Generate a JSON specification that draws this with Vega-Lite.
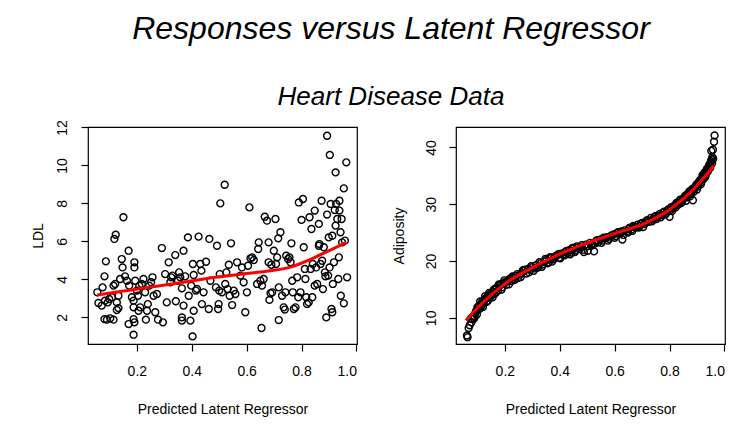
{
  "$schema": "https://vega.github.io/schema/vega-lite/v6.json",
  "background": "white",
  "padding": {"left": 30, "top": 12, "right": 5, "bottom": 5},
  "title": {
    "text": "Responses versus Latent Regressor",
    "subtitle": "Heart Disease Data",
    "anchor": "middle",
    "dx": 13,
    "font": "Liberation Sans",
    "fontSize": 32,
    "fontStyle": "italic",
    "fontWeight": "normal",
    "color": "black",
    "subtitleFont": "Liberation Sans",
    "subtitleFontSize": 26,
    "subtitleFontStyle": "italic",
    "subtitleColor": "black",
    "subtitlePadding": 38,
    "offset": 8
  },
  "datasets": {
    "ldl": [
      {"x":0.056,"y":3.32},{"x":0.060,"y":2.76},{"x":0.072,"y":2.62},{"x":0.075,"y":3.58},{"x":0.082,"y":4.16},
      {"x":0.087,"y":4.95},{"x":0.082,"y":1.91},{"x":0.091,"y":1.88},{"x":0.103,"y":1.95},{"x":0.115,"y":1.88},
      {"x":0.084,"y":2.88},{"x":0.094,"y":2.79},{"x":0.099,"y":2.97},{"x":0.109,"y":3.06},{"x":0.115,"y":3.67},
      {"x":0.121,"y":3.76},{"x":0.118,"y":6.13},{"x":0.123,"y":6.35},{"x":0.127,"y":2.39},{"x":0.133,"y":2.49},
      {"x":0.127,"y":2.79},{"x":0.133,"y":3.14},{"x":0.139,"y":4.02},{"x":0.145,"y":5.07},{"x":0.148,"y":4.63},
      {"x":0.151,"y":7.27},{"x":0.157,"y":4.16},{"x":0.164,"y":3.93},{"x":0.170,"y":5.51},{"x":0.172,"y":3.67},
      {"x":0.170,"y":1.65},{"x":0.182,"y":3.06},{"x":0.188,"y":2.88},{"x":0.191,"y":4.90},{"x":0.191,"y":4.63},
      {"x":0.188,"y":2.53},{"x":0.188,"y":1.91},{"x":0.191,"y":1.74},{"x":0.188,"y":1.09},{"x":0.194,"y":3.93},
      {"x":0.200,"y":3.41},{"x":0.204,"y":3.14},{"x":0.209,"y":3.67},{"x":0.206,"y":2.35},{"x":0.212,"y":2.53},
      {"x":0.218,"y":3.76},{"x":0.224,"y":4.02},{"x":0.230,"y":3.32},{"x":0.233,"y":1.88},{"x":0.237,"y":2.35},
      {"x":0.240,"y":2.70},{"x":0.245,"y":3.67},{"x":0.252,"y":3.85},{"x":0.257,"y":4.11},{"x":0.261,"y":3.14},
      {"x":0.267,"y":2.27},{"x":0.273,"y":3.23},{"x":0.277,"y":1.88},{"x":0.291,"y":5.65},{"x":0.295,"y":1.74},
      {"x":0.303,"y":4.28},{"x":0.309,"y":2.79},{"x":0.316,"y":4.90},{"x":0.322,"y":3.85},{"x":0.325,"y":4.11},
      {"x":0.330,"y":4.20},{"x":0.340,"y":5.28},{"x":0.342,"y":2.85},{"x":0.350,"y":3.93},{"x":0.354,"y":4.37},
      {"x":0.358,"y":4.11},{"x":0.364,"y":3.53},{"x":0.364,"y":2.00},{"x":0.364,"y":1.83},{"x":0.370,"y":5.51},
      {"x":0.370,"y":2.62},{"x":0.376,"y":4.16},{"x":0.386,"y":6.21},{"x":0.389,"y":3.14},{"x":0.395,"y":1.83},
      {"x":0.398,"y":3.67},{"x":0.403,"y":1.00},{"x":0.404,"y":4.81},{"x":0.407,"y":2.35},{"x":0.407,"y":4.23},
      {"x":0.415,"y":3.41},{"x":0.419,"y":3.50},{"x":0.425,"y":6.25},{"x":0.431,"y":4.81},{"x":0.435,"y":4.46},
      {"x":0.437,"y":2.70},{"x":0.443,"y":3.32},{"x":0.452,"y":4.93},{"x":0.462,"y":2.44},{"x":0.464,"y":6.13},
      {"x":0.468,"y":3.93},{"x":0.488,"y":3.58},{"x":0.492,"y":5.77},{"x":0.496,"y":2.44},{"x":0.498,"y":2.70},
      {"x":0.500,"y":3.41},{"x":0.502,"y":4.28},{"x":0.504,"y":8.00},{"x":0.510,"y":3.32},{"x":0.520,"y":8.98},
      {"x":0.522,"y":3.76},{"x":0.526,"y":4.37},{"x":0.531,"y":3.49},{"x":0.535,"y":4.77},{"x":0.538,"y":3.14},
      {"x":0.543,"y":5.90},{"x":0.547,"y":2.65},{"x":0.553,"y":3.41},{"x":0.559,"y":3.23},{"x":0.565,"y":4.90},
      {"x":0.577,"y":4.20},{"x":0.583,"y":4.63},{"x":0.589,"y":3.85},{"x":0.595,"y":2.27},{"x":0.601,"y":3.32},
      {"x":0.605,"y":4.72},{"x":0.610,"y":7.79},{"x":0.614,"y":5.11},{"x":0.620,"y":5.16},{"x":0.626,"y":5.02},
      {"x":0.638,"y":3.76},{"x":0.642,"y":5.60},{"x":0.644,"y":5.95},{"x":0.650,"y":3.93},{"x":0.654,"y":1.44},
      {"x":0.656,"y":3.67},{"x":0.662,"y":4.02},{"x":0.666,"y":7.30},{"x":0.674,"y":7.09},{"x":0.680,"y":5.95},
      {"x":0.680,"y":4.90},{"x":0.683,"y":2.92},{"x":0.687,"y":3.27},{"x":0.690,"y":4.77},{"x":0.693,"y":3.32},
      {"x":0.699,"y":5.51},{"x":0.705,"y":7.18},{"x":0.707,"y":4.81},{"x":0.711,"y":5.16},{"x":0.715,"y":6.16},
      {"x":0.717,"y":1.86},{"x":0.717,"y":3.58},{"x":0.723,"y":6.48},{"x":0.729,"y":3.14},{"x":0.735,"y":2.53},
      {"x":0.739,"y":2.41},{"x":0.741,"y":3.32},{"x":0.744,"y":5.25},{"x":0.751,"y":5.07},{"x":0.756,"y":5.16},
      {"x":0.760,"y":4.90},{"x":0.763,"y":5.90},{"x":0.766,"y":3.93},{"x":0.768,"y":3.32},{"x":0.772,"y":2.44},
      {"x":0.778,"y":2.53},{"x":0.784,"y":4.11},{"x":0.788,"y":3.06},{"x":0.790,"y":8.05},{"x":0.796,"y":3.32},
      {"x":0.800,"y":7.13},{"x":0.805,"y":8.23},{"x":0.808,"y":5.69},{"x":0.812,"y":4.55},{"x":0.814,"y":4.02},
      {"x":0.817,"y":3.06},{"x":0.820,"y":2.70},{"x":0.826,"y":2.79},{"x":0.829,"y":7.27},{"x":0.833,"y":4.55},
      {"x":0.836,"y":6.65},{"x":0.839,"y":3.06},{"x":0.841,"y":4.81},{"x":0.848,"y":7.62},{"x":0.848,"y":3.67},
      {"x":0.853,"y":4.63},{"x":0.857,"y":3.76},{"x":0.863,"y":6.92},{"x":0.863,"y":5.77},{"x":0.865,"y":5.86},
      {"x":0.869,"y":4.81},{"x":0.873,"y":8.14},{"x":0.875,"y":4.98},{"x":0.878,"y":3.49},{"x":0.881,"y":5.69},
      {"x":0.885,"y":4.37},{"x":0.887,"y":4.16},{"x":0.890,"y":2.00},{"x":0.893,"y":11.56},{"x":0.893,"y":7.41},
      {"x":0.897,"y":4.20},{"x":0.899,"y":6.21},{"x":0.902,"y":4.63},{"x":0.903,"y":10.55},{"x":0.906,"y":7.97},
      {"x":0.909,"y":2.44},{"x":0.912,"y":2.27},{"x":0.912,"y":6.30},{"x":0.914,"y":3.76},{"x":0.918,"y":4.90},
      {"x":0.921,"y":7.65},{"x":0.924,"y":9.63},{"x":0.924,"y":6.83},{"x":0.926,"y":7.97},{"x":0.930,"y":7.18},
      {"x":0.934,"y":4.02},{"x":0.936,"y":5.16},{"x":0.938,"y":7.62},{"x":0.938,"y":8.14},{"x":0.942,"y":6.48},
      {"x":0.943,"y":3.14},{"x":0.946,"y":7.18},{"x":0.948,"y":5.95},{"x":0.954,"y":8.79},{"x":0.954,"y":2.74},
      {"x":0.958,"y":6.04},{"x":0.963,"y":10.16},{"x":0.966,"y":4.11}
    ],
    "ldlfit": [
      {"x":0.056,"y":3.18},{"x":0.121,"y":3.32},{"x":0.243,"y":3.58},{"x":0.364,"y":3.84},{"x":0.486,"y":4.11},
      {"x":0.608,"y":4.32},{"x":0.705,"y":4.49},{"x":0.766,"y":4.67},{"x":0.827,"y":5.02},{"x":0.887,"y":5.42},
      {"x":0.963,"y":5.95}
    ],
    "adip": [
      {"x":0.062,"y":6.9},{"x":0.064,"y":6.6},{"x":0.072,"y":8.7},{"x":0.078,"y":9.2},{"x":0.082,"y":9.8},
      {"x":0.085,"y":10.3},{"x":0.088,"y":9.9},{"x":0.092,"y":10.8},{"x":0.095,"y":11.2},{"x":0.098,"y":10.6},
      {"x":0.102,"y":11.5},{"x":0.105,"y":12.0},{"x":0.108,"y":11.6},{"x":0.112,"y":12.4},{"x":0.115,"y":12.1},
      {"x":0.118,"y":12.9},{"x":0.122,"y":12.6},{"x":0.125,"y":13.1},{"x":0.130,"y":13.4},{"x":0.133,"y":12.8},
      {"x":0.136,"y":13.7},{"x":0.140,"y":13.9},{"x":0.145,"y":13.5},{"x":0.148,"y":14.2},{"x":0.152,"y":14.0},
      {"x":0.158,"y":14.6},{"x":0.162,"y":14.2},{"x":0.165,"y":15.1},{"x":0.170,"y":15.3},{"x":0.175,"y":14.8},
      {"x":0.180,"y":15.6},{"x":0.185,"y":15.9},{"x":0.190,"y":15.4},{"x":0.195,"y":16.1},{"x":0.200,"y":16.3},
      {"x":0.205,"y":15.8},{"x":0.212,"y":16.6},{"x":0.218,"y":16.9},{"x":0.225,"y":16.5},{"x":0.232,"y":17.1},
      {"x":0.240,"y":17.4},{"x":0.248,"y":17.0},{"x":0.255,"y":17.6},{"x":0.262,"y":17.9},{"x":0.270,"y":18.3},
      {"x":0.278,"y":17.8},{"x":0.285,"y":18.6},{"x":0.292,"y":18.4},{"x":0.300,"y":18.9},{"x":0.308,"y":18.7},
      {"x":0.315,"y":19.3},{"x":0.322,"y":19.0},{"x":0.330,"y":19.6},{"x":0.338,"y":19.4},{"x":0.345,"y":19.9},
      {"x":0.352,"y":20.2},{"x":0.360,"y":19.8},{"x":0.368,"y":20.5},{"x":0.375,"y":20.3},{"x":0.383,"y":20.8},
      {"x":0.390,"y":21.0},{"x":0.398,"y":20.6},{"x":0.405,"y":21.3},{"x":0.412,"y":21.1},{"x":0.420,"y":21.6},
      {"x":0.428,"y":21.4},{"x":0.435,"y":21.9},{"x":0.442,"y":21.5},{"x":0.450,"y":22.2},{"x":0.458,"y":21.9},
      {"x":0.465,"y":22.4},{"x":0.472,"y":22.1},{"x":0.480,"y":22.8},{"x":0.488,"y":21.6},{"x":0.495,"y":22.9},
      {"x":0.502,"y":21.8},{"x":0.510,"y":23.2},{"x":0.518,"y":23.0},{"x":0.525,"y":21.7},{"x":0.532,"y":23.5},
      {"x":0.540,"y":23.3},{"x":0.548,"y":23.8},{"x":0.556,"y":23.6},{"x":0.564,"y":24.0},{"x":0.572,"y":24.2},
      {"x":0.580,"y":23.9},{"x":0.588,"y":24.5},{"x":0.596,"y":24.7},{"x":0.604,"y":24.4},{"x":0.612,"y":25.1},
      {"x":0.620,"y":24.9},{"x":0.628,"y":23.8},{"x":0.636,"y":25.4},{"x":0.644,"y":25.2},{"x":0.652,"y":25.7},
      {"x":0.660,"y":25.5},{"x":0.668,"y":26.2},{"x":0.676,"y":25.9},{"x":0.684,"y":26.4},{"x":0.692,"y":26.2},
      {"x":0.700,"y":26.7},{"x":0.708,"y":26.5},{"x":0.716,"y":27.1},{"x":0.724,"y":26.9},{"x":0.732,"y":27.6},
      {"x":0.740,"y":27.3},{"x":0.748,"y":27.9},{"x":0.756,"y":27.7},{"x":0.764,"y":28.3},{"x":0.772,"y":28.1},
      {"x":0.780,"y":28.7},{"x":0.788,"y":28.4},{"x":0.795,"y":29.1},{"x":0.800,"y":27.8},{"x":0.806,"y":29.5},
      {"x":0.812,"y":29.3},{"x":0.818,"y":29.8},{"x":0.824,"y":30.1},{"x":0.830,"y":29.9},{"x":0.836,"y":30.5},
      {"x":0.842,"y":30.2},{"x":0.848,"y":30.9},{"x":0.854,"y":31.2},{"x":0.860,"y":30.6},{"x":0.865,"y":31.6},
      {"x":0.870,"y":31.9},{"x":0.875,"y":31.4},{"x":0.880,"y":32.4},{"x":0.885,"y":30.7},{"x":0.890,"y":32.8},
      {"x":0.895,"y":33.2},{"x":0.900,"y":32.6},{"x":0.905,"y":33.7},{"x":0.910,"y":34.1},{"x":0.914,"y":33.5},
      {"x":0.918,"y":34.6},{"x":0.922,"y":34.9},{"x":0.926,"y":35.3},{"x":0.930,"y":34.8},{"x":0.934,"y":35.7},
      {"x":0.938,"y":36.1},{"x":0.942,"y":36.5},{"x":0.946,"y":37.0},{"x":0.950,"y":37.4},{"x":0.953,"y":37.9},
      {"x":0.956,"y":38.3},{"x":0.952,"y":39.4},{"x":0.958,"y":39.6},{"x":0.962,"y":41.0},{"x":0.964,"y":42.1},
      {"x":0.068,"y":8.2},{"x":0.076,"y":9.9},{"x":0.090,"y":10.2},{"x":0.100,"y":11.9},{"x":0.110,"y":12.9},
      {"x":0.120,"y":11.9},{"x":0.128,"y":13.8},{"x":0.138,"y":13.0},{"x":0.143,"y":14.4},{"x":0.155,"y":13.6},
      {"x":0.160,"y":15.0},{"x":0.168,"y":14.5},{"x":0.178,"y":15.9},{"x":0.188,"y":15.0},{"x":0.198,"y":16.6},
      {"x":0.208,"y":16.4},{"x":0.215,"y":15.9},{"x":0.228,"y":17.3},{"x":0.236,"y":16.7},{"x":0.245,"y":17.7},
      {"x":0.258,"y":17.2},{"x":0.266,"y":18.4},{"x":0.275,"y":18.5},{"x":0.288,"y":18.0},{"x":0.296,"y":19.1},
      {"x":0.305,"y":18.3},{"x":0.318,"y":18.8},{"x":0.326,"y":19.8},{"x":0.335,"y":19.0},{"x":0.348,"y":20.4},
      {"x":0.356,"y":19.6},{"x":0.365,"y":20.7},{"x":0.372,"y":19.9},{"x":0.380,"y":20.4},{"x":0.395,"y":21.2},
      {"x":0.402,"y":20.5},{"x":0.418,"y":21.0},{"x":0.425,"y":21.8},{"x":0.438,"y":21.2},{"x":0.446,"y":22.3},
      {"x":0.455,"y":21.6},{"x":0.462,"y":22.6},{"x":0.476,"y":22.4},{"x":0.485,"y":22.0},{"x":0.500,"y":22.6},
      {"x":0.515,"y":22.7},{"x":0.528,"y":23.1},{"x":0.536,"y":23.7},{"x":0.552,"y":23.2},{"x":0.560,"y":24.1},
      {"x":0.576,"y":23.6},{"x":0.584,"y":24.3},{"x":0.600,"y":24.1},{"x":0.608,"y":24.9},{"x":0.624,"y":25.2},
      {"x":0.632,"y":24.6},{"x":0.648,"y":25.0},{"x":0.656,"y":25.9},{"x":0.664,"y":25.3},{"x":0.672,"y":26.1},
      {"x":0.688,"y":25.9},{"x":0.696,"y":26.6},{"x":0.704,"y":26.0},{"x":0.712,"y":26.8},{"x":0.720,"y":27.2},
      {"x":0.736,"y":27.0},{"x":0.744,"y":27.7},{"x":0.752,"y":27.4},{"x":0.760,"y":28.0},{"x":0.768,"y":27.7},
      {"x":0.776,"y":28.5},{"x":0.784,"y":28.2},{"x":0.792,"y":28.8},{"x":0.803,"y":29.0},{"x":0.809,"y":28.8},
      {"x":0.815,"y":29.6},{"x":0.821,"y":29.4},{"x":0.827,"y":30.3},{"x":0.833,"y":30.0},{"x":0.839,"y":30.8},
      {"x":0.845,"y":30.4},{"x":0.851,"y":31.0},{"x":0.857,"y":31.5},{"x":0.863,"y":31.2},{"x":0.868,"y":32.0},
      {"x":0.873,"y":32.3},{"x":0.878,"y":31.8},{"x":0.883,"y":32.7},{"x":0.888,"y":32.2},{"x":0.893,"y":33.0},
      {"x":0.898,"y":33.5},{"x":0.903,"y":33.1},{"x":0.908,"y":34.0},{"x":0.912,"y":34.3},{"x":0.916,"y":33.9},
      {"x":0.920,"y":35.1},{"x":0.924,"y":34.5},{"x":0.928,"y":35.6},{"x":0.932,"y":35.2},{"x":0.936,"y":36.2},
      {"x":0.940,"y":35.8},{"x":0.944,"y":36.8},{"x":0.948,"y":36.4},{"x":0.951,"y":37.6},{"x":0.955,"y":37.2},
      {"x":0.959,"y":38.0}
    ],
    "adipfit": [
      {"x":0.058,"y":9.53},{"x":0.109,"y":12.17},{"x":0.200,"y":15.98},{"x":0.291,"y":18.61},{"x":0.401,"y":21.25},
      {"x":0.474,"y":22.71},{"x":0.602,"y":24.88},{"x":0.718,"y":26.81},{"x":0.803,"y":29.16},{"x":0.888,"y":32.67},
      {"x":0.961,"y":36.77}
    ]
  },
  "spacing": 33,
  "hconcat": [
    {
      "width": 269,
      "height": 217,
      "layer": [
        {
          "data": {"name": "ldl"},
          "mark": {"type": "point", "shape": "circle", "filled": false, "stroke": "black", "strokeWidth": 1.4, "size": 48, "opacity": 1},
          "encoding": {
            "x": {"field": "x", "type": "quantitative", "scale": {"domain": [0.022, 1.002], "zero": false, "nice": false},
              "axis": {"values": [0.2, 0.4, 0.6, 0.8, 1.0], "format": ".1f", "title": "Predicted Latent Regressor", "labelPadding": 13, "titlePadding": 24}},
            "y": {"field": "y", "type": "quantitative", "scale": {"domain": [0.6, 12.02], "zero": false, "nice": false},
              "axis": {"values": [2, 4, 6, 8, 10, 12], "title": "LDL", "labelAngle": -90, "labelAlign": "center", "labelBaseline": "alphabetic", "labelPadding": 15, "titlePadding": 10}}
          }
        },
        {
          "data": {"name": "ldlfit"},
          "mark": {"type": "line", "color": "#ff0000", "strokeWidth": 3, "interpolate": "monotone"},
          "encoding": {
            "x": {"field": "x", "type": "quantitative"},
            "y": {"field": "y", "type": "quantitative"}
          }
        }
      ]
    },
    {
      "width": 269,
      "height": 217,
      "layer": [
        {
          "data": {"name": "adip"},
          "mark": {"type": "point", "shape": "circle", "filled": false, "stroke": "black", "strokeWidth": 1.4, "size": 48, "opacity": 1},
          "encoding": {
            "x": {"field": "x", "type": "quantitative", "scale": {"domain": [0.022, 1.002], "zero": false, "nice": false},
              "axis": {"values": [0.2, 0.4, 0.6, 0.8, 1.0], "format": ".1f", "title": "Predicted Latent Regressor", "labelPadding": 13, "titlePadding": 24}},
            "y": {"field": "y", "type": "quantitative", "scale": {"domain": [5.4, 43.6], "zero": false, "nice": false},
              "axis": {"values": [10, 15, 20, 25, 30, 35, 40], "title": "Adiposity", "labelAngle": -90, "labelAlign": "center", "labelBaseline": "alphabetic", "labelPadding": 14, "titlePadding": 18}}
          }
        },
        {
          "data": {"name": "adipfit"},
          "mark": {"type": "line", "color": "#ff0000", "strokeWidth": 3, "interpolate": "monotone"},
          "encoding": {
            "x": {"field": "x", "type": "quantitative"},
            "y": {"field": "y", "type": "quantitative"}
          }
        }
      ]
    }
  ],
  "config": {
    "view": {"stroke": "black", "strokeWidth": 1.2},
    "axis": {
      "grid": false,
      "domain": false,
      "ticks": true,
      "tickColor": "black",
      "tickSize": 7,
      "tickWidth": 1.2,
      "labelFont": "Liberation Sans",
      "labelFontSize": 14,
      "labelColor": "black",
      "titleFont": "Liberation Sans",
      "titleFontSize": 14,
      "titleFontWeight": "normal",
      "titleColor": "black"
    }
  }
}
